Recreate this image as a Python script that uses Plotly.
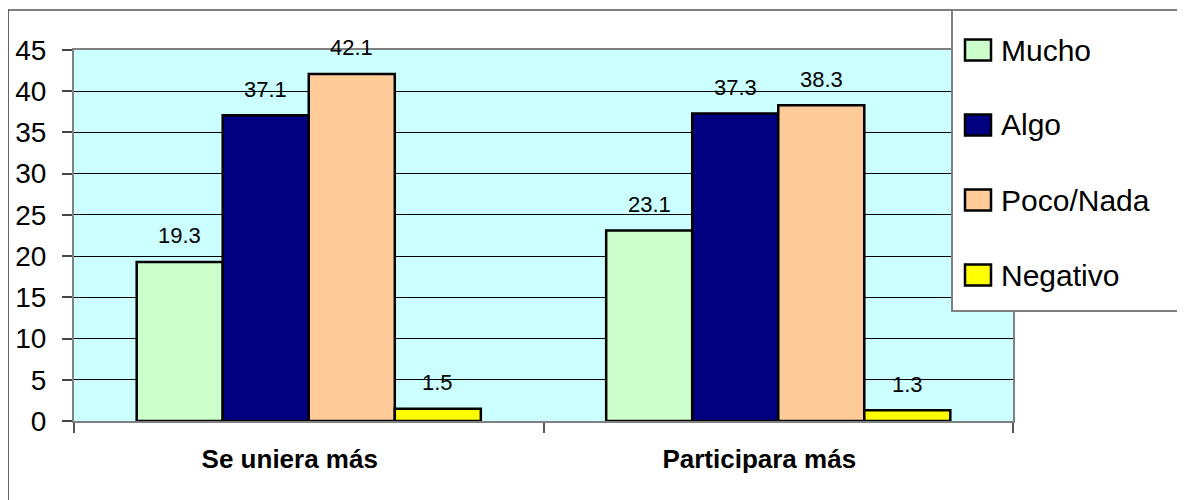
import plotly.graph_objects as go

categories = ["Se uniera más", "Participara más"]
series_names = ["Mucho", "Algo", "Poco/Nada", "Negativo"]
mucho = [19.3, 23.1]
algo = [37.1, 37.3]
poco_nada = [42.1, 38.3]
negativo = [1.5, 1.3]
series_values = [mucho, algo, poco_nada, negativo]
series_colors = ["#CCFFCC", "#000080", "#FFCC99", "#FFFF00"]
y_ticks = [0, 5, 10, 15, 20, 25, 30, 35, 40, 45]

FONT = "Liberation Sans, Arial, sans-serif"
BARGAP = 0.267
n = len(series_names)
w = (1 - BARGAP) / n
xpos = list(range(len(categories)))

# page is offset by the 8px body margin; design in page coords then subtract
OFF = 8
W, H = 1185, 500
L, R, T, B = 74 - OFF, 1013 - OFF, 50 - OFF, 421 - OFF


def px(xp):
    return (xp - OFF - L) / (R - L)


def py(yp):
    return (B - (yp - OFF)) / (B - T)


fig = go.Figure()
annotations = []
for i, (name, vals, col) in enumerate(zip(series_names, series_values, series_colors)):
    fig.add_trace(go.Bar(
        x=xpos, y=vals, name=name, marker=dict(color=col, line=dict(color="black", width=2.5)),
        showlegend=False, hoverinfo="y+name",
    ))
    for ci, v in zip(xpos, vals):
        annotations.append(dict(
            x=ci - (1 - BARGAP) / 2 + (i + 0.5) * w, y=v, xref="x", yref="y",
            text=f"{v:.1f}", showarrow=False, yshift=26, yanchor="middle",
            font=dict(family=FONT, size=22, color="black"),
        ))

shapes = [
    # outer frame
    dict(type="rect", xref="paper", yref="paper", x0=px(8), x1=px(1200), y0=py(520), y1=py(10),
         line=dict(color="black", width=1.2), fillcolor="rgba(0,0,0,0)", layer="below"),
    # legend box
    dict(type="rect", xref="paper", yref="paper", x0=px(952), x1=px(1200), y0=py(311), y1=py(10),
         line=dict(color="#808080", width=2), fillcolor="white", layer="above"),
]
centers = [50, 125, 200, 275]
for name, col, cy in zip(series_names, series_colors, centers):
    shapes.append(dict(type="rect", xref="paper", yref="paper", x0=px(965), x1=px(991),
                       y0=py(cy + 10.5), y1=py(cy - 10.5),
                       line=dict(color="black", width=2.5), fillcolor=col, layer="above"))
    annotations.append(dict(x=px(999), y=py(cy), xref="paper", yref="paper", text=name,
                            showarrow=False, xanchor="left", yanchor="middle",
                            font=dict(family=FONT, size=30, color="black")))

fig.update_layout(
    width=W, height=H,
    margin=dict(l=L, r=W - R, t=T, b=H - B, autoexpand=False),
    paper_bgcolor="white", plot_bgcolor="#CCFFFF",
    barmode="group", bargap=BARGAP, bargroupgap=0,
    font=dict(family=FONT, color="black"),
    shapes=shapes, annotations=annotations,
    showlegend=False,
)
fig.update_xaxes(
    range=[-0.5, len(categories) - 0.5], tickmode="array", tickvals=xpos, ticktext=categories,
    tickfont=dict(family=FONT, size=26, color="black", weight="bold"),
    ticks="", showgrid=False, zeroline=False,
    showline=True, mirror=True, linecolor="#808080", linewidth=2,
    ticklabelstandoff=14, ticklabelshift=-19,
    minor=dict(tickmode="array", tickvals=[-0.5 + k for k in range(len(categories) + 1)],
               ticks="outside", ticklen=10, tickcolor="#555555", tickwidth=1.5, showgrid=False),
)
fig.update_yaxes(
    range=[0, 45], tickmode="array", tickvals=y_ticks,
    tickfont=dict(family=FONT, size=28, color="black"),
    ticks="outside", ticklen=10, tickcolor="#444444", tickwidth=1.5,
    showgrid=True, gridcolor="black", gridwidth=1, zeroline=False,
    showline=True, mirror=True, linecolor="#808080", linewidth=2,
    ticklabelstandoff=10,
)
fig.write_html("out.html")
